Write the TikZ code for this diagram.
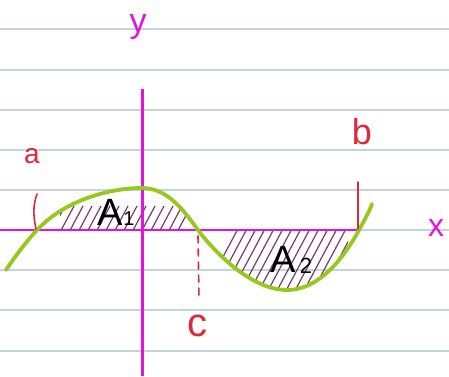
\documentclass[tikz,border=0pt]{standalone}
\usepackage{fontspec}
\setmainfont{Liberation Sans}
\definecolor{ruleblue}{RGB}{196,212,222}
\definecolor{axmag}{RGB}{226,20,220}
\definecolor{penred}{RGB}{222,40,60}
\definecolor{curvegreen}{RGB}{150,200,30}
\definecolor{hatchpurple}{RGB}{120,60,110}
\begin{document}
\begin{tikzpicture}[x=1pt,y=-1pt,
  rule/.style={draw=ruleblue, line width=1.3pt},
  axisline/.style={draw=axmag, line width=2pt},
  yaxisline/.style={draw=axmag, line width=3pt},
  redmark/.style={draw=penred, line width=1.6pt, line cap=round},
  curve/.style={draw=curvegreen, line width=3.8pt, line cap=round},
  hatch/.style={draw=hatchpurple, line width=1.2pt},
  redlbl/.style={text=penred, inner sep=0pt},
  maglbl/.style={text=axmag, inner sep=0pt},
  arealbl/.style={text=black, inner sep=0pt}]
\useasboundingbox (0,0) rectangle (449,376);
\fill[white] (0,0) rectangle (449,376);
% ruled paper
\foreach \yy in {29,70,110,150,190,230,270,310,351} \draw[rule] (0,\yy) -- (449,\yy);
% curve key points
\coordinate (p0) at (6,270);
\coordinate (pa) at (37,230);
\coordinate (pm) at (142,188);
\coordinate (pc) at (198,230);
\coordinate (pt) at (287,290);
\coordinate (pb) at (359,230);
\coordinate (pe) at (372,204);
% hatching A1
\begin{scope}
  \clip (60,231) rectangle (186,150);
  \clip (pa) .. controls (65,200) and (110,188) .. (pm)
        .. controls (168,188) and (184,211) .. (pc) -- cycle;
  \foreach \i in {0,...,20} \draw[hatch] (40+\i*9,236) -- ++(16,-30);
\end{scope}
% hatching A2
\begin{scope}
  \clip (214,229) rectangle (348,300);
  \clip (pc) .. controls (212,249) and (250,290) .. (pt)
        .. controls (322,290) and (347,252) .. (pb) -- cycle;
  \foreach \i in {0,...,20} \draw[hatch] (200+\i*9,300) -- ++(40,-75);
\end{scope}
% axes
\coordinate (xs) at (0,230);
\coordinate (xe) at (360,230);
\coordinate (ys) at (142,89);
\coordinate (ye) at (142,376);
\draw[axisline] (xs) -- (xe);
\draw[yaxisline] (ys) -- (ye);
% curve
\draw[curve] (p0) .. controls (14,258) and (25,243) .. (pa)
  .. controls (65,200) and (110,188) .. (pm)
  .. controls (168,188) and (184,211) .. (pc)
  .. controls (212,249) and (250,290) .. (pt)
  .. controls (322,290) and (347,252) .. (pb)
  .. controls (365,219) and (369,212) .. (pe);
% red marks
\coordinate (a0) at (36,229);
\coordinate (a1) at (37,194);
\draw[redmark] (a0) .. controls (33,215) and (33,205) .. (a1);
\coordinate (b0) at (358,229);
\coordinate (b1) at (358,182);
\draw[redmark] (b0) -- (b1);
\coordinate (c0) at (198,236);
\coordinate (c1) at (199,298);
\draw[redmark, dash pattern=on 7pt off 6pt] (c0) -- (c1);
% labels
\node[redlbl, font=\fontsize{28}{28}\selectfont] (la) at (32,156) {a};
\node[redlbl, font=\fontsize{36}{36}\selectfont] (lb) at (362,132) {b};
\node[redlbl, font=\fontsize{40}{40}\selectfont] (lc) at (197,326) {c};
\node[maglbl, font=\fontsize{34}{34}\selectfont] (ly) at (138,27) {y};
\node[maglbl, font=\fontsize{32}{32}\selectfont, anchor=west] (lx) at (428,228) {x};
\node[arealbl, font=\fontsize{38}{38}\selectfont] (A1) at (110,212) {A};
\node[arealbl, font=\fontsize{20}{20}\selectfont] (n1) at (129,219) {1};
\node[arealbl, font=\fontsize{38}{38}\selectfont] (A2) at (283,259) {A};
\node[arealbl, font=\fontsize{22}{22}\selectfont] (n2) at (306,266) {2};
\end{tikzpicture}
\end{document}
